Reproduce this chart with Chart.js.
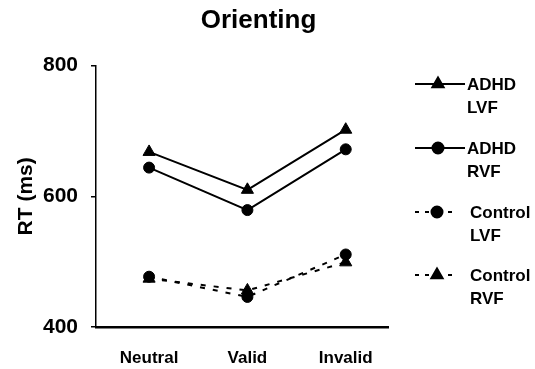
<!DOCTYPE html>
<html>
<head>
<meta charset="utf-8">
<script src="https://cdn.jsdelivr.net/npm/chart.js@4.4.1/dist/chart.umd.min.js"></script>
<style>
  html, body { margin: 0; padding: 0; background: #fff; }
  #wrap { width: 535px; height: 369px; }
</style>
</head>
<body>
<div id="wrap"><canvas id="c" width="535" height="369"></canvas></div>
<script>
// ---- data ----
const chartTitle = 'Orienting';
const yTitle = 'RT (ms)';
const categories = ['Neutral', 'Valid', 'Invalid'];
const yTicks = [400, 600, 800];
const seriesGroups = ['ADHD', 'ADHD', 'Control', 'Control'];
const seriesFields = ['LVF', 'RVF', 'LVF', 'RVF'];
const adhdLVF = [668, 610, 702];
const adhdRVF = [644, 579, 672];
const controlLVF = [477, 446, 511];
const controlRVF = [474, 456, 499];

const seriesValues = [adhdLVF, adhdRVF, controlLVF, controlRVF];
const seriesMarkers = ['triangle', 'circle', 'circle', 'triangle'];
const seriesDashed = [false, false, true, true];

const FONT = '"Liberation Sans", Arial, Helvetica, sans-serif';

const datasets = seriesValues.map((vals, i) => ({
  label: seriesGroups[i] + ' ' + seriesFields[i],
  data: vals.map((v, k) => ({ x: k, y: v })),
  borderColor: '#000',
  backgroundColor: '#000',
  borderWidth: 2,
  borderDash: seriesDashed[i] ? [5, 8] : [],
  pointStyle: seriesMarkers[i],
  pointRadius: seriesMarkers[i] === 'triangle' ? 7 : 5.5,
  pointBorderWidth: 1,
  pointBackgroundColor: '#000',
  pointBorderColor: '#000',
  tension: 0,
  fill: false
}));

const legendPlugin = {
  id: 'sideLegend',
  afterDraw(chart) {
    const ctx = chart.ctx;
    const rows = [84, 148, 212, 275];
    ctx.save();
    chart.data.datasets.forEach((ds, i) => {
      const y = rows[i];
      ctx.strokeStyle = '#000';
      ctx.lineWidth = 2;
      ctx.setLineDash([]);
      ctx.beginPath();
      if (!seriesDashed[i]) {
        ctx.moveTo(415, y); ctx.lineTo(465, y);
      } else {
        [[415, 419], [425, 429], [448, 452]].forEach(s => { ctx.moveTo(s[0], y); ctx.lineTo(s[1], y); });
      }
      ctx.stroke();
      ctx.fillStyle = '#000';
      Chart.helpers.drawPoint(ctx, {
        pointStyle: ds.pointStyle,
        radius: ds.pointStyle === 'triangle' ? 6.5 : 5.5,
        borderWidth: 1,
        rotation: 0
      }, seriesDashed[i] ? 437 : 438, y);
      ctx.fillStyle = '#000';
      ctx.font = 'bold 17px ' + FONT;
      ctx.textAlign = 'left';
      ctx.textBaseline = 'middle';
      const tx = seriesDashed[i] ? 470 : 467;
      ctx.fillText(seriesGroups[i], tx, y + 1);
      ctx.fillText(seriesFields[i], tx, y + 24);
    });
    ctx.restore();
  }
};

new Chart(document.getElementById('c'), {
  type: 'line',
  data: { datasets },
  plugins: [legendPlugin],
  options: {
    responsive: false,
    animation: false,
    devicePixelRatio: 1,
    layout: { padding: { left: 0, right: 18, top: 0, bottom: 0 } },
    plugins: {
      legend: { display: false },
      tooltip: { enabled: false },
      title: {
        display: true,
        text: chartTitle,
        color: '#000',
        font: { family: FONT, size: 26, weight: 'bold' },
        padding: { top: 5, bottom: 29.5 }
      }
    },
    scales: {
      x: {
        type: 'linear',
        min: -0.54,
        max: 2.43,
        afterBuildTicks: (s) => { s.ticks = categories.map((_, i) => ({ value: i })); },
        afterFit: (s) => { s.height = 42; },
        grid: { display: false, drawTicks: false },
        border: { display: true, color: '#000', width: 2.5 },
        ticks: {
          color: '#000',
          padding: 21,
          autoSkip: false,
          maxRotation: 0,
          font: { family: FONT, size: 17, weight: 'bold' },
          callback: (v) => categories[v]
        }
      },
      y: {
        type: 'linear',
        position: 'left',
        min: yTicks[0],
        max: yTicks[yTicks.length - 1],
        afterBuildTicks: (s) => { s.ticks = yTicks.map(v => ({ value: v })); },
        afterFit: (s) => { s.width = 96; },
        grid: { drawOnChartArea: false, drawTicks: true, tickLength: 5, color: '#000', lineWidth: 1.5 },
        border: { display: true, color: '#000', width: 1.5 },
        ticks: {
          color: '#000',
          padding: 13,
          font: { family: FONT, size: 21, weight: 'bold' }
        },
        title: {
          display: true,
          text: yTitle,
          color: '#000',
          font: { family: FONT, size: 21, weight: 'bold' },
          padding: { top: 14, bottom: 0 }
        }
      },
      yRight: {
        type: 'linear',
        position: 'right',
        display: true,
        afterFit: (s) => { s.width = 129; },
        grid: { display: false, drawTicks: false },
        border: { display: false },
        ticks: { display: false }
      }
    }
  }
});
</script>
</body>
</html>
